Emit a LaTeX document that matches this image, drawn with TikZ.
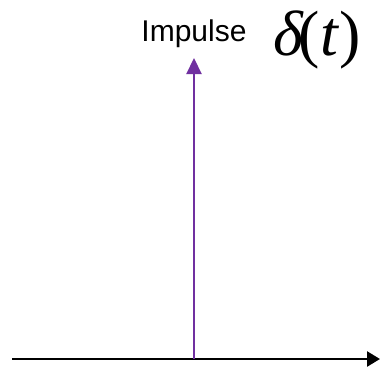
\documentclass[tikz,border=0pt]{standalone}
\usepackage{fontspec}
\setmainfont{Liberation Sans}
\newfontfamily\tnr{Liberation Serif}
\usetikzlibrary{arrows.meta}
\definecolor{impulsepurple}{HTML}{7030A0}
\begin{document}
\begin{tikzpicture}[x=1pt,y=-1pt,
  axisline/.style={line width=2.6pt,black,-{Triangle[length=13pt,width=15pt]}},
  impline/.style={line width=2.2pt,impulsepurple,-{Triangle[length=16pt,width=15pt]}},
  lbl/.style={inner sep=0pt,anchor=base}]
\useasboundingbox (0,0) rectangle (380,368);
\coordinate (axs) at (12,359);
\coordinate (axe) at (380,359);
\coordinate (ib) at (194,359);
\coordinate (it) at (194,58);
\draw[axisline] (axs) -- (axe);
\draw[impline] (ib) -- (it);
\node[lbl,font=\fontsize{30}{30}\selectfont] (imp) at (194,41) {Impulse};
\node[lbl,font=\fontsize{64}{64}\selectfont\tnr] (del) at (317,55) {\textit{δ}\kern-0.08em(\textit{t})};
\end{tikzpicture}
\end{document}
